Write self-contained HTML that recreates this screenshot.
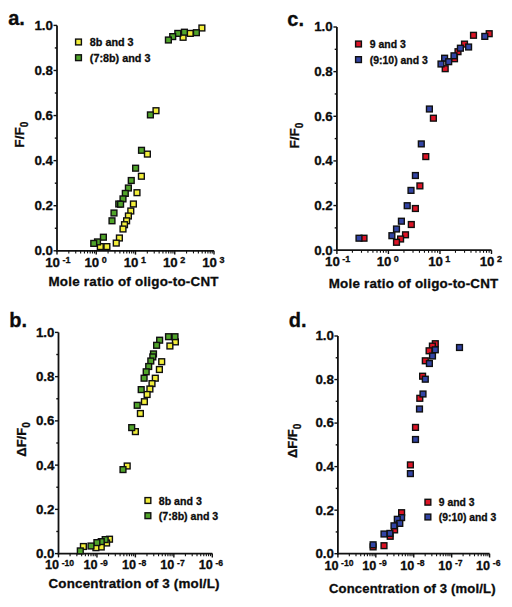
<!DOCTYPE html>
<html><head><meta charset="utf-8"><style>
html,body{margin:0;padding:0;background:#fff;}
svg{display:block;}
text{font-family:"Liberation Sans", sans-serif;font-weight:bold;fill:#0c0c0c;stroke:#0c0c0c;stroke-width:0.3px;}
</style></head><body>
<svg width="512" height="607" viewBox="0 0 512 607">
<rect width="512" height="607" fill="#fff"/>
<line x1="57.00" y1="25.40" x2="57.00" y2="251.60" stroke="#111" stroke-width="1.8"/>
<line x1="56.20" y1="250.80" x2="214.00" y2="250.80" stroke="#111" stroke-width="1.8"/>
<line x1="53.50" y1="250.80" x2="57.00" y2="250.80" stroke="#111" stroke-width="1.4"/>
<line x1="54.80" y1="228.26" x2="57.00" y2="228.26" stroke="#111" stroke-width="1.4"/>
<line x1="53.50" y1="205.72" x2="57.00" y2="205.72" stroke="#111" stroke-width="1.4"/>
<line x1="54.80" y1="183.18" x2="57.00" y2="183.18" stroke="#111" stroke-width="1.4"/>
<line x1="53.50" y1="160.64" x2="57.00" y2="160.64" stroke="#111" stroke-width="1.4"/>
<line x1="54.80" y1="138.10" x2="57.00" y2="138.10" stroke="#111" stroke-width="1.4"/>
<line x1="53.50" y1="115.56" x2="57.00" y2="115.56" stroke="#111" stroke-width="1.4"/>
<line x1="54.80" y1="93.02" x2="57.00" y2="93.02" stroke="#111" stroke-width="1.4"/>
<line x1="53.50" y1="70.48" x2="57.00" y2="70.48" stroke="#111" stroke-width="1.4"/>
<line x1="54.80" y1="47.94" x2="57.00" y2="47.94" stroke="#111" stroke-width="1.4"/>
<line x1="53.50" y1="25.40" x2="57.00" y2="25.40" stroke="#111" stroke-width="1.4"/>
<text x="53.00" y="255.20" font-size="13.4" text-anchor="end" >0.0</text>
<text x="53.00" y="210.12" font-size="13.4" text-anchor="end" >0.2</text>
<text x="53.00" y="165.04" font-size="13.4" text-anchor="end" >0.4</text>
<text x="53.00" y="119.96" font-size="13.4" text-anchor="end" >0.6</text>
<text x="53.00" y="74.88" font-size="13.4" text-anchor="end" >0.8</text>
<text x="53.00" y="29.80" font-size="13.4" text-anchor="end" >1.0</text>
<line x1="57.00" y1="250.80" x2="57.00" y2="254.60" stroke="#111" stroke-width="1.4"/>
<line x1="68.82" y1="250.80" x2="68.82" y2="253.40" stroke="#111" stroke-width="1.1"/>
<line x1="75.73" y1="250.80" x2="75.73" y2="253.40" stroke="#111" stroke-width="1.1"/>
<line x1="80.63" y1="250.80" x2="80.63" y2="253.40" stroke="#111" stroke-width="1.1"/>
<line x1="84.43" y1="250.80" x2="84.43" y2="253.40" stroke="#111" stroke-width="1.1"/>
<line x1="87.54" y1="250.80" x2="87.54" y2="253.40" stroke="#111" stroke-width="1.1"/>
<line x1="90.17" y1="250.80" x2="90.17" y2="253.40" stroke="#111" stroke-width="1.1"/>
<line x1="92.45" y1="250.80" x2="92.45" y2="253.40" stroke="#111" stroke-width="1.1"/>
<line x1="94.45" y1="250.80" x2="94.45" y2="253.40" stroke="#111" stroke-width="1.1"/>
<line x1="96.25" y1="250.80" x2="96.25" y2="254.60" stroke="#111" stroke-width="1.4"/>
<line x1="108.07" y1="250.80" x2="108.07" y2="253.40" stroke="#111" stroke-width="1.1"/>
<line x1="114.98" y1="250.80" x2="114.98" y2="253.40" stroke="#111" stroke-width="1.1"/>
<line x1="119.88" y1="250.80" x2="119.88" y2="253.40" stroke="#111" stroke-width="1.1"/>
<line x1="123.68" y1="250.80" x2="123.68" y2="253.40" stroke="#111" stroke-width="1.1"/>
<line x1="126.79" y1="250.80" x2="126.79" y2="253.40" stroke="#111" stroke-width="1.1"/>
<line x1="129.42" y1="250.80" x2="129.42" y2="253.40" stroke="#111" stroke-width="1.1"/>
<line x1="131.70" y1="250.80" x2="131.70" y2="253.40" stroke="#111" stroke-width="1.1"/>
<line x1="133.70" y1="250.80" x2="133.70" y2="253.40" stroke="#111" stroke-width="1.1"/>
<line x1="135.50" y1="250.80" x2="135.50" y2="254.60" stroke="#111" stroke-width="1.4"/>
<line x1="147.32" y1="250.80" x2="147.32" y2="253.40" stroke="#111" stroke-width="1.1"/>
<line x1="154.23" y1="250.80" x2="154.23" y2="253.40" stroke="#111" stroke-width="1.1"/>
<line x1="159.13" y1="250.80" x2="159.13" y2="253.40" stroke="#111" stroke-width="1.1"/>
<line x1="162.93" y1="250.80" x2="162.93" y2="253.40" stroke="#111" stroke-width="1.1"/>
<line x1="166.04" y1="250.80" x2="166.04" y2="253.40" stroke="#111" stroke-width="1.1"/>
<line x1="168.67" y1="250.80" x2="168.67" y2="253.40" stroke="#111" stroke-width="1.1"/>
<line x1="170.95" y1="250.80" x2="170.95" y2="253.40" stroke="#111" stroke-width="1.1"/>
<line x1="172.95" y1="250.80" x2="172.95" y2="253.40" stroke="#111" stroke-width="1.1"/>
<line x1="174.75" y1="250.80" x2="174.75" y2="254.60" stroke="#111" stroke-width="1.4"/>
<line x1="186.57" y1="250.80" x2="186.57" y2="253.40" stroke="#111" stroke-width="1.1"/>
<line x1="193.48" y1="250.80" x2="193.48" y2="253.40" stroke="#111" stroke-width="1.1"/>
<line x1="198.38" y1="250.80" x2="198.38" y2="253.40" stroke="#111" stroke-width="1.1"/>
<line x1="202.18" y1="250.80" x2="202.18" y2="253.40" stroke="#111" stroke-width="1.1"/>
<line x1="205.29" y1="250.80" x2="205.29" y2="253.40" stroke="#111" stroke-width="1.1"/>
<line x1="207.92" y1="250.80" x2="207.92" y2="253.40" stroke="#111" stroke-width="1.1"/>
<line x1="210.20" y1="250.80" x2="210.20" y2="253.40" stroke="#111" stroke-width="1.1"/>
<line x1="212.20" y1="250.80" x2="212.20" y2="253.40" stroke="#111" stroke-width="1.1"/>
<line x1="214.00" y1="250.80" x2="214.00" y2="254.60" stroke="#111" stroke-width="1.4"/>
<text x="60.00" y="267.00" font-size="13.3" text-anchor="end" >10</text>
<text x="62.40" y="262.50" font-size="9" text-anchor="start" >-1</text>
<text x="99.25" y="267.00" font-size="13.3" text-anchor="end" >10</text>
<text x="101.65" y="262.50" font-size="9" text-anchor="start" >0</text>
<text x="138.50" y="267.00" font-size="13.3" text-anchor="end" >10</text>
<text x="140.90" y="262.50" font-size="9" text-anchor="start" >1</text>
<text x="177.75" y="267.00" font-size="13.3" text-anchor="end" >10</text>
<text x="180.15" y="262.50" font-size="9" text-anchor="start" >2</text>
<text x="217.00" y="267.00" font-size="13.3" text-anchor="end" >10</text>
<text x="219.40" y="262.50" font-size="9" text-anchor="start" >3</text>
<text x="48.50" y="285.50" font-size="13.4" text-anchor="start" textLength="170" lengthAdjust="spacing">Mole ratio of oligo-to-CNT</text>
<text transform="translate(24.30,134.70) rotate(-90)" font-size="13.6" text-anchor="middle">F/F<tspan font-size="10" dy="3.8">0</tspan></text>
<text x="8.20" y="25.30" font-size="20" text-anchor="start" >a.</text>
<rect x="75.60" y="39.10" width="5.8" height="5.8" fill="#f2ee3a" stroke="#101010" stroke-width="1.4"/>
<text x="89.80" y="46.00" font-size="10.8" text-anchor="start" >8b and 3</text>
<rect x="75.60" y="54.80" width="5.8" height="5.8" fill="#50a42a" stroke="#101010" stroke-width="1.4"/>
<text x="89.80" y="61.70" font-size="10.8" text-anchor="start" >(7:8b) and 3</text>
<rect x="199.00" y="25.10" width="5.8" height="5.8" fill="#f2ee3a" stroke="#101010" stroke-width="1.4"/>
<rect x="187.40" y="30.50" width="5.8" height="5.8" fill="#f2ee3a" stroke="#101010" stroke-width="1.4"/>
<rect x="180.20" y="34.40" width="5.8" height="5.8" fill="#f2ee3a" stroke="#101010" stroke-width="1.4"/>
<rect x="153.10" y="107.80" width="5.8" height="5.8" fill="#f2ee3a" stroke="#101010" stroke-width="1.4"/>
<rect x="144.50" y="151.20" width="5.8" height="5.8" fill="#f2ee3a" stroke="#101010" stroke-width="1.4"/>
<rect x="138.50" y="173.35" width="5.8" height="5.8" fill="#f2ee3a" stroke="#101010" stroke-width="1.4"/>
<rect x="134.10" y="189.80" width="5.8" height="5.8" fill="#f2ee3a" stroke="#101010" stroke-width="1.4"/>
<rect x="130.50" y="201.10" width="5.8" height="5.8" fill="#f2ee3a" stroke="#101010" stroke-width="1.4"/>
<rect x="127.90" y="208.10" width="5.8" height="5.8" fill="#f2ee3a" stroke="#101010" stroke-width="1.4"/>
<rect x="125.50" y="213.10" width="5.8" height="5.8" fill="#f2ee3a" stroke="#101010" stroke-width="1.4"/>
<rect x="123.70" y="217.90" width="5.8" height="5.8" fill="#f2ee3a" stroke="#101010" stroke-width="1.4"/>
<rect x="121.60" y="221.80" width="5.8" height="5.8" fill="#f2ee3a" stroke="#101010" stroke-width="1.4"/>
<rect x="120.10" y="226.10" width="5.8" height="5.8" fill="#f2ee3a" stroke="#101010" stroke-width="1.4"/>
<rect x="116.50" y="235.10" width="5.8" height="5.8" fill="#f2ee3a" stroke="#101010" stroke-width="1.4"/>
<rect x="113.35" y="240.20" width="5.8" height="5.8" fill="#f2ee3a" stroke="#101010" stroke-width="1.4"/>
<rect x="97.40" y="243.70" width="5.8" height="5.8" fill="#f2ee3a" stroke="#101010" stroke-width="1.4"/>
<rect x="104.00" y="243.70" width="5.8" height="5.8" fill="#f2ee3a" stroke="#101010" stroke-width="1.4"/>
<rect x="181.50" y="29.30" width="5.8" height="5.8" fill="#50a42a" stroke="#101010" stroke-width="1.4"/>
<rect x="193.50" y="29.80" width="5.8" height="5.8" fill="#50a42a" stroke="#101010" stroke-width="1.4"/>
<rect x="174.90" y="30.50" width="5.8" height="5.8" fill="#50a42a" stroke="#101010" stroke-width="1.4"/>
<rect x="169.80" y="33.70" width="5.8" height="5.8" fill="#50a42a" stroke="#101010" stroke-width="1.4"/>
<rect x="165.50" y="37.10" width="5.8" height="5.8" fill="#50a42a" stroke="#101010" stroke-width="1.4"/>
<rect x="147.50" y="112.00" width="5.8" height="5.8" fill="#50a42a" stroke="#101010" stroke-width="1.4"/>
<rect x="138.60" y="147.40" width="5.8" height="5.8" fill="#50a42a" stroke="#101010" stroke-width="1.4"/>
<rect x="132.70" y="165.30" width="5.8" height="5.8" fill="#50a42a" stroke="#101010" stroke-width="1.4"/>
<rect x="128.35" y="177.60" width="5.8" height="5.8" fill="#50a42a" stroke="#101010" stroke-width="1.4"/>
<rect x="125.50" y="185.10" width="5.8" height="5.8" fill="#50a42a" stroke="#101010" stroke-width="1.4"/>
<rect x="122.40" y="190.50" width="5.8" height="5.8" fill="#50a42a" stroke="#101010" stroke-width="1.4"/>
<rect x="120.10" y="196.00" width="5.8" height="5.8" fill="#50a42a" stroke="#101010" stroke-width="1.4"/>
<rect x="115.85" y="201.10" width="5.8" height="5.8" fill="#50a42a" stroke="#101010" stroke-width="1.4"/>
<rect x="117.70" y="201.30" width="5.8" height="5.8" fill="#50a42a" stroke="#101010" stroke-width="1.4"/>
<rect x="111.10" y="210.10" width="5.8" height="5.8" fill="#50a42a" stroke="#101010" stroke-width="1.4"/>
<rect x="109.10" y="217.90" width="5.8" height="5.8" fill="#50a42a" stroke="#101010" stroke-width="1.4"/>
<rect x="100.50" y="234.30" width="5.8" height="5.8" fill="#50a42a" stroke="#101010" stroke-width="1.4"/>
<rect x="94.60" y="239.00" width="5.8" height="5.8" fill="#50a42a" stroke="#101010" stroke-width="1.4"/>
<rect x="90.85" y="240.50" width="5.8" height="5.8" fill="#50a42a" stroke="#101010" stroke-width="1.4"/>
<line x1="58.50" y1="332.40" x2="58.50" y2="554.40" stroke="#111" stroke-width="1.8"/>
<line x1="57.70" y1="553.60" x2="212.30" y2="553.60" stroke="#111" stroke-width="1.8"/>
<line x1="55.00" y1="553.60" x2="58.50" y2="553.60" stroke="#111" stroke-width="1.4"/>
<line x1="56.30" y1="531.48" x2="58.50" y2="531.48" stroke="#111" stroke-width="1.4"/>
<line x1="55.00" y1="509.36" x2="58.50" y2="509.36" stroke="#111" stroke-width="1.4"/>
<line x1="56.30" y1="487.24" x2="58.50" y2="487.24" stroke="#111" stroke-width="1.4"/>
<line x1="55.00" y1="465.12" x2="58.50" y2="465.12" stroke="#111" stroke-width="1.4"/>
<line x1="56.30" y1="443.00" x2="58.50" y2="443.00" stroke="#111" stroke-width="1.4"/>
<line x1="55.00" y1="420.88" x2="58.50" y2="420.88" stroke="#111" stroke-width="1.4"/>
<line x1="56.30" y1="398.76" x2="58.50" y2="398.76" stroke="#111" stroke-width="1.4"/>
<line x1="55.00" y1="376.64" x2="58.50" y2="376.64" stroke="#111" stroke-width="1.4"/>
<line x1="56.30" y1="354.52" x2="58.50" y2="354.52" stroke="#111" stroke-width="1.4"/>
<line x1="55.00" y1="332.40" x2="58.50" y2="332.40" stroke="#111" stroke-width="1.4"/>
<text x="54.50" y="558.00" font-size="13.4" text-anchor="end" >0.0</text>
<text x="54.50" y="513.76" font-size="13.4" text-anchor="end" >0.2</text>
<text x="54.50" y="469.52" font-size="13.4" text-anchor="end" >0.4</text>
<text x="54.50" y="425.28" font-size="13.4" text-anchor="end" >0.6</text>
<text x="54.50" y="381.04" font-size="13.4" text-anchor="end" >0.8</text>
<text x="54.50" y="336.80" font-size="13.4" text-anchor="end" >1.0</text>
<line x1="58.50" y1="553.60" x2="58.50" y2="557.40" stroke="#111" stroke-width="1.4"/>
<line x1="70.07" y1="553.60" x2="70.07" y2="556.20" stroke="#111" stroke-width="1.1"/>
<line x1="76.85" y1="553.60" x2="76.85" y2="556.20" stroke="#111" stroke-width="1.1"/>
<line x1="81.65" y1="553.60" x2="81.65" y2="556.20" stroke="#111" stroke-width="1.1"/>
<line x1="85.38" y1="553.60" x2="85.38" y2="556.20" stroke="#111" stroke-width="1.1"/>
<line x1="88.42" y1="553.60" x2="88.42" y2="556.20" stroke="#111" stroke-width="1.1"/>
<line x1="90.99" y1="553.60" x2="90.99" y2="556.20" stroke="#111" stroke-width="1.1"/>
<line x1="93.22" y1="553.60" x2="93.22" y2="556.20" stroke="#111" stroke-width="1.1"/>
<line x1="95.19" y1="553.60" x2="95.19" y2="556.20" stroke="#111" stroke-width="1.1"/>
<line x1="96.95" y1="553.60" x2="96.95" y2="557.40" stroke="#111" stroke-width="1.4"/>
<line x1="108.52" y1="553.60" x2="108.52" y2="556.20" stroke="#111" stroke-width="1.1"/>
<line x1="115.30" y1="553.60" x2="115.30" y2="556.20" stroke="#111" stroke-width="1.1"/>
<line x1="120.10" y1="553.60" x2="120.10" y2="556.20" stroke="#111" stroke-width="1.1"/>
<line x1="123.83" y1="553.60" x2="123.83" y2="556.20" stroke="#111" stroke-width="1.1"/>
<line x1="126.87" y1="553.60" x2="126.87" y2="556.20" stroke="#111" stroke-width="1.1"/>
<line x1="129.44" y1="553.60" x2="129.44" y2="556.20" stroke="#111" stroke-width="1.1"/>
<line x1="131.67" y1="553.60" x2="131.67" y2="556.20" stroke="#111" stroke-width="1.1"/>
<line x1="133.64" y1="553.60" x2="133.64" y2="556.20" stroke="#111" stroke-width="1.1"/>
<line x1="135.40" y1="553.60" x2="135.40" y2="557.40" stroke="#111" stroke-width="1.4"/>
<line x1="146.97" y1="553.60" x2="146.97" y2="556.20" stroke="#111" stroke-width="1.1"/>
<line x1="153.75" y1="553.60" x2="153.75" y2="556.20" stroke="#111" stroke-width="1.1"/>
<line x1="158.55" y1="553.60" x2="158.55" y2="556.20" stroke="#111" stroke-width="1.1"/>
<line x1="162.28" y1="553.60" x2="162.28" y2="556.20" stroke="#111" stroke-width="1.1"/>
<line x1="165.32" y1="553.60" x2="165.32" y2="556.20" stroke="#111" stroke-width="1.1"/>
<line x1="167.89" y1="553.60" x2="167.89" y2="556.20" stroke="#111" stroke-width="1.1"/>
<line x1="170.12" y1="553.60" x2="170.12" y2="556.20" stroke="#111" stroke-width="1.1"/>
<line x1="172.09" y1="553.60" x2="172.09" y2="556.20" stroke="#111" stroke-width="1.1"/>
<line x1="173.85" y1="553.60" x2="173.85" y2="557.40" stroke="#111" stroke-width="1.4"/>
<line x1="185.42" y1="553.60" x2="185.42" y2="556.20" stroke="#111" stroke-width="1.1"/>
<line x1="192.20" y1="553.60" x2="192.20" y2="556.20" stroke="#111" stroke-width="1.1"/>
<line x1="197.00" y1="553.60" x2="197.00" y2="556.20" stroke="#111" stroke-width="1.1"/>
<line x1="200.73" y1="553.60" x2="200.73" y2="556.20" stroke="#111" stroke-width="1.1"/>
<line x1="203.77" y1="553.60" x2="203.77" y2="556.20" stroke="#111" stroke-width="1.1"/>
<line x1="206.34" y1="553.60" x2="206.34" y2="556.20" stroke="#111" stroke-width="1.1"/>
<line x1="208.57" y1="553.60" x2="208.57" y2="556.20" stroke="#111" stroke-width="1.1"/>
<line x1="210.54" y1="553.60" x2="210.54" y2="556.20" stroke="#111" stroke-width="1.1"/>
<line x1="212.30" y1="553.60" x2="212.30" y2="557.40" stroke="#111" stroke-width="1.4"/>
<text x="59.10" y="569.40" font-size="12.7" text-anchor="end" >10</text>
<text x="61.70" y="565.50" font-size="8.6" text-anchor="start" >-10</text>
<text x="97.55" y="569.40" font-size="12.7" text-anchor="end" >10</text>
<text x="100.15" y="565.50" font-size="8.6" text-anchor="start" >-9</text>
<text x="136.00" y="569.40" font-size="12.7" text-anchor="end" >10</text>
<text x="138.60" y="565.50" font-size="8.6" text-anchor="start" >-8</text>
<text x="174.45" y="569.40" font-size="12.7" text-anchor="end" >10</text>
<text x="177.05" y="565.50" font-size="8.6" text-anchor="start" >-7</text>
<text x="212.90" y="569.40" font-size="12.7" text-anchor="end" >10</text>
<text x="215.50" y="565.50" font-size="8.6" text-anchor="start" >-6</text>
<text x="48.50" y="587.50" font-size="13.4" text-anchor="start" textLength="171" lengthAdjust="spacing">Concentration of 3 (mol/L)</text>
<text transform="translate(26.00,439.50) rotate(-90)" font-size="13.0" text-anchor="middle">&#916;F/F<tspan font-size="10" dy="3.8">0</tspan></text>
<text x="9.20" y="326.60" font-size="20" text-anchor="start" >b.</text>
<rect x="145.00" y="497.60" width="5.8" height="5.8" fill="#f2ee3a" stroke="#101010" stroke-width="1.4"/>
<text x="158.80" y="504.50" font-size="10.6" text-anchor="start" >8b and 3</text>
<rect x="145.00" y="512.80" width="5.8" height="5.8" fill="#50a42a" stroke="#101010" stroke-width="1.4"/>
<text x="158.80" y="519.70" font-size="10.6" text-anchor="start" >(7:8b) and 3</text>
<rect x="172.50" y="339.00" width="5.8" height="5.8" fill="#f2ee3a" stroke="#101010" stroke-width="1.4"/>
<rect x="167.00" y="343.10" width="5.8" height="5.8" fill="#f2ee3a" stroke="#101010" stroke-width="1.4"/>
<rect x="158.80" y="358.80" width="5.8" height="5.8" fill="#f2ee3a" stroke="#101010" stroke-width="1.4"/>
<rect x="156.50" y="366.60" width="5.8" height="5.8" fill="#f2ee3a" stroke="#101010" stroke-width="1.4"/>
<rect x="152.40" y="375.30" width="5.8" height="5.8" fill="#f2ee3a" stroke="#101010" stroke-width="1.4"/>
<rect x="149.10" y="380.70" width="5.8" height="5.8" fill="#f2ee3a" stroke="#101010" stroke-width="1.4"/>
<rect x="147.00" y="386.10" width="5.8" height="5.8" fill="#f2ee3a" stroke="#101010" stroke-width="1.4"/>
<rect x="144.20" y="391.60" width="5.8" height="5.8" fill="#f2ee3a" stroke="#101010" stroke-width="1.4"/>
<rect x="141.50" y="398.80" width="5.8" height="5.8" fill="#f2ee3a" stroke="#101010" stroke-width="1.4"/>
<rect x="137.50" y="410.60" width="5.8" height="5.8" fill="#f2ee3a" stroke="#101010" stroke-width="1.4"/>
<rect x="132.50" y="428.70" width="5.8" height="5.8" fill="#f2ee3a" stroke="#101010" stroke-width="1.4"/>
<rect x="124.30" y="463.10" width="5.8" height="5.8" fill="#f2ee3a" stroke="#101010" stroke-width="1.4"/>
<rect x="106.60" y="536.30" width="5.8" height="5.8" fill="#f2ee3a" stroke="#101010" stroke-width="1.4"/>
<rect x="103.70" y="540.10" width="5.8" height="5.8" fill="#f2ee3a" stroke="#101010" stroke-width="1.4"/>
<rect x="80.50" y="543.60" width="5.8" height="5.8" fill="#f2ee3a" stroke="#101010" stroke-width="1.4"/>
<rect x="98.35" y="544.10" width="5.8" height="5.8" fill="#f2ee3a" stroke="#101010" stroke-width="1.4"/>
<rect x="93.00" y="544.80" width="5.8" height="5.8" fill="#f2ee3a" stroke="#101010" stroke-width="1.4"/>
<rect x="165.60" y="333.80" width="5.8" height="5.8" fill="#50a42a" stroke="#101010" stroke-width="1.4"/>
<rect x="172.10" y="333.80" width="5.8" height="5.8" fill="#50a42a" stroke="#101010" stroke-width="1.4"/>
<rect x="156.75" y="337.30" width="5.8" height="5.8" fill="#50a42a" stroke="#101010" stroke-width="1.4"/>
<rect x="153.70" y="342.40" width="5.8" height="5.8" fill="#50a42a" stroke="#101010" stroke-width="1.4"/>
<rect x="150.60" y="351.00" width="5.8" height="5.8" fill="#50a42a" stroke="#101010" stroke-width="1.4"/>
<rect x="149.90" y="354.00" width="5.8" height="5.8" fill="#50a42a" stroke="#101010" stroke-width="1.4"/>
<rect x="147.90" y="358.10" width="5.8" height="5.8" fill="#50a42a" stroke="#101010" stroke-width="1.4"/>
<rect x="145.80" y="363.60" width="5.8" height="5.8" fill="#50a42a" stroke="#101010" stroke-width="1.4"/>
<rect x="143.30" y="368.90" width="5.8" height="5.8" fill="#50a42a" stroke="#101010" stroke-width="1.4"/>
<rect x="141.20" y="375.30" width="5.8" height="5.8" fill="#50a42a" stroke="#101010" stroke-width="1.4"/>
<rect x="138.30" y="386.70" width="5.8" height="5.8" fill="#50a42a" stroke="#101010" stroke-width="1.4"/>
<rect x="134.30" y="402.40" width="5.8" height="5.8" fill="#50a42a" stroke="#101010" stroke-width="1.4"/>
<rect x="128.80" y="424.70" width="5.8" height="5.8" fill="#50a42a" stroke="#101010" stroke-width="1.4"/>
<rect x="120.10" y="466.70" width="5.8" height="5.8" fill="#50a42a" stroke="#101010" stroke-width="1.4"/>
<rect x="102.30" y="536.70" width="5.8" height="5.8" fill="#50a42a" stroke="#101010" stroke-width="1.4"/>
<rect x="98.35" y="538.70" width="5.8" height="5.8" fill="#50a42a" stroke="#101010" stroke-width="1.4"/>
<rect x="94.00" y="539.70" width="5.8" height="5.8" fill="#50a42a" stroke="#101010" stroke-width="1.4"/>
<rect x="88.10" y="543.10" width="5.8" height="5.8" fill="#50a42a" stroke="#101010" stroke-width="1.4"/>
<rect x="77.40" y="548.00" width="5.8" height="5.8" fill="#50a42a" stroke="#101010" stroke-width="1.4"/>
<line x1="336.90" y1="27.00" x2="336.90" y2="251.00" stroke="#111" stroke-width="1.8"/>
<line x1="336.10" y1="250.20" x2="491.50" y2="250.20" stroke="#111" stroke-width="1.8"/>
<line x1="333.40" y1="250.20" x2="336.90" y2="250.20" stroke="#111" stroke-width="1.4"/>
<line x1="334.70" y1="227.88" x2="336.90" y2="227.88" stroke="#111" stroke-width="1.4"/>
<line x1="333.40" y1="205.56" x2="336.90" y2="205.56" stroke="#111" stroke-width="1.4"/>
<line x1="334.70" y1="183.24" x2="336.90" y2="183.24" stroke="#111" stroke-width="1.4"/>
<line x1="333.40" y1="160.92" x2="336.90" y2="160.92" stroke="#111" stroke-width="1.4"/>
<line x1="334.70" y1="138.60" x2="336.90" y2="138.60" stroke="#111" stroke-width="1.4"/>
<line x1="333.40" y1="116.28" x2="336.90" y2="116.28" stroke="#111" stroke-width="1.4"/>
<line x1="334.70" y1="93.96" x2="336.90" y2="93.96" stroke="#111" stroke-width="1.4"/>
<line x1="333.40" y1="71.64" x2="336.90" y2="71.64" stroke="#111" stroke-width="1.4"/>
<line x1="334.70" y1="49.32" x2="336.90" y2="49.32" stroke="#111" stroke-width="1.4"/>
<line x1="333.40" y1="27.00" x2="336.90" y2="27.00" stroke="#111" stroke-width="1.4"/>
<text x="332.80" y="254.60" font-size="13.4" text-anchor="end" >0.0</text>
<text x="332.80" y="209.96" font-size="13.4" text-anchor="end" >0.2</text>
<text x="332.80" y="165.32" font-size="13.4" text-anchor="end" >0.4</text>
<text x="332.80" y="120.68" font-size="13.4" text-anchor="end" >0.6</text>
<text x="332.80" y="76.04" font-size="13.4" text-anchor="end" >0.8</text>
<text x="332.80" y="31.40" font-size="13.4" text-anchor="end" >1.0</text>
<line x1="336.90" y1="250.20" x2="336.90" y2="254.00" stroke="#111" stroke-width="1.4"/>
<line x1="352.41" y1="250.20" x2="352.41" y2="252.80" stroke="#111" stroke-width="1.1"/>
<line x1="361.49" y1="250.20" x2="361.49" y2="252.80" stroke="#111" stroke-width="1.1"/>
<line x1="367.93" y1="250.20" x2="367.93" y2="252.80" stroke="#111" stroke-width="1.1"/>
<line x1="372.92" y1="250.20" x2="372.92" y2="252.80" stroke="#111" stroke-width="1.1"/>
<line x1="377.00" y1="250.20" x2="377.00" y2="252.80" stroke="#111" stroke-width="1.1"/>
<line x1="380.45" y1="250.20" x2="380.45" y2="252.80" stroke="#111" stroke-width="1.1"/>
<line x1="383.44" y1="250.20" x2="383.44" y2="252.80" stroke="#111" stroke-width="1.1"/>
<line x1="386.08" y1="250.20" x2="386.08" y2="252.80" stroke="#111" stroke-width="1.1"/>
<line x1="388.43" y1="250.20" x2="388.43" y2="254.00" stroke="#111" stroke-width="1.4"/>
<line x1="403.95" y1="250.20" x2="403.95" y2="252.80" stroke="#111" stroke-width="1.1"/>
<line x1="413.02" y1="250.20" x2="413.02" y2="252.80" stroke="#111" stroke-width="1.1"/>
<line x1="419.46" y1="250.20" x2="419.46" y2="252.80" stroke="#111" stroke-width="1.1"/>
<line x1="424.45" y1="250.20" x2="424.45" y2="252.80" stroke="#111" stroke-width="1.1"/>
<line x1="428.53" y1="250.20" x2="428.53" y2="252.80" stroke="#111" stroke-width="1.1"/>
<line x1="431.98" y1="250.20" x2="431.98" y2="252.80" stroke="#111" stroke-width="1.1"/>
<line x1="434.97" y1="250.20" x2="434.97" y2="252.80" stroke="#111" stroke-width="1.1"/>
<line x1="437.61" y1="250.20" x2="437.61" y2="252.80" stroke="#111" stroke-width="1.1"/>
<line x1="439.97" y1="250.20" x2="439.97" y2="254.00" stroke="#111" stroke-width="1.4"/>
<line x1="455.48" y1="250.20" x2="455.48" y2="252.80" stroke="#111" stroke-width="1.1"/>
<line x1="464.55" y1="250.20" x2="464.55" y2="252.80" stroke="#111" stroke-width="1.1"/>
<line x1="470.99" y1="250.20" x2="470.99" y2="252.80" stroke="#111" stroke-width="1.1"/>
<line x1="475.99" y1="250.20" x2="475.99" y2="252.80" stroke="#111" stroke-width="1.1"/>
<line x1="480.07" y1="250.20" x2="480.07" y2="252.80" stroke="#111" stroke-width="1.1"/>
<line x1="483.52" y1="250.20" x2="483.52" y2="252.80" stroke="#111" stroke-width="1.1"/>
<line x1="486.51" y1="250.20" x2="486.51" y2="252.80" stroke="#111" stroke-width="1.1"/>
<line x1="489.14" y1="250.20" x2="489.14" y2="252.80" stroke="#111" stroke-width="1.1"/>
<line x1="491.50" y1="250.20" x2="491.50" y2="254.00" stroke="#111" stroke-width="1.4"/>
<text x="339.90" y="266.00" font-size="13.3" text-anchor="end" >10</text>
<text x="342.30" y="261.50" font-size="9" text-anchor="start" >-1</text>
<text x="391.43" y="266.00" font-size="13.3" text-anchor="end" >10</text>
<text x="393.83" y="261.50" font-size="9" text-anchor="start" >0</text>
<text x="442.97" y="266.00" font-size="13.3" text-anchor="end" >10</text>
<text x="445.37" y="261.50" font-size="9" text-anchor="start" >1</text>
<text x="494.50" y="266.00" font-size="13.3" text-anchor="end" >10</text>
<text x="496.90" y="261.50" font-size="9" text-anchor="start" >2</text>
<text x="328.70" y="287.60" font-size="13.4" text-anchor="start" textLength="169.6" lengthAdjust="spacing">Mole ratio of oligo-to-CNT</text>
<text transform="translate(299.30,135.60) rotate(-90)" font-size="13.6" text-anchor="middle">F/F<tspan font-size="10" dy="3.8">0</tspan></text>
<text x="287.30" y="25.60" font-size="20" text-anchor="start" >c.</text>
<rect x="355.60" y="41.10" width="5.8" height="5.8" fill="#dc1426" stroke="#101010" stroke-width="1.4"/>
<text x="369.80" y="48.00" font-size="10.45" text-anchor="start" >9 and 3</text>
<rect x="355.60" y="56.70" width="5.8" height="5.8" fill="#3244a4" stroke="#101010" stroke-width="1.4"/>
<text x="369.80" y="63.60" font-size="10.45" text-anchor="start" >(9:10) and 3</text>
<rect x="486.30" y="30.80" width="5.8" height="5.8" fill="#dc1426" stroke="#101010" stroke-width="1.4"/>
<rect x="470.60" y="32.40" width="5.8" height="5.8" fill="#dc1426" stroke="#101010" stroke-width="1.4"/>
<rect x="461.60" y="41.20" width="5.8" height="5.8" fill="#dc1426" stroke="#101010" stroke-width="1.4"/>
<rect x="455.10" y="48.80" width="5.8" height="5.8" fill="#dc1426" stroke="#101010" stroke-width="1.4"/>
<rect x="451.60" y="55.85" width="5.8" height="5.8" fill="#dc1426" stroke="#101010" stroke-width="1.4"/>
<rect x="442.30" y="65.80" width="5.8" height="5.8" fill="#dc1426" stroke="#101010" stroke-width="1.4"/>
<rect x="430.50" y="115.30" width="5.8" height="5.8" fill="#dc1426" stroke="#101010" stroke-width="1.4"/>
<rect x="422.90" y="153.70" width="5.8" height="5.8" fill="#dc1426" stroke="#101010" stroke-width="1.4"/>
<rect x="417.00" y="183.00" width="5.8" height="5.8" fill="#dc1426" stroke="#101010" stroke-width="1.4"/>
<rect x="412.50" y="205.60" width="5.8" height="5.8" fill="#dc1426" stroke="#101010" stroke-width="1.4"/>
<rect x="408.40" y="221.60" width="5.8" height="5.8" fill="#dc1426" stroke="#101010" stroke-width="1.4"/>
<rect x="402.60" y="231.90" width="5.8" height="5.8" fill="#dc1426" stroke="#101010" stroke-width="1.4"/>
<rect x="361.10" y="235.30" width="5.8" height="5.8" fill="#dc1426" stroke="#101010" stroke-width="1.4"/>
<rect x="397.70" y="236.10" width="5.8" height="5.8" fill="#dc1426" stroke="#101010" stroke-width="1.4"/>
<rect x="393.60" y="239.40" width="5.8" height="5.8" fill="#dc1426" stroke="#101010" stroke-width="1.4"/>
<rect x="481.90" y="33.50" width="5.8" height="5.8" fill="#3244a4" stroke="#101010" stroke-width="1.4"/>
<rect x="465.70" y="44.10" width="5.8" height="5.8" fill="#3244a4" stroke="#101010" stroke-width="1.4"/>
<rect x="457.50" y="45.30" width="5.8" height="5.8" fill="#3244a4" stroke="#101010" stroke-width="1.4"/>
<rect x="451.10" y="52.90" width="5.8" height="5.8" fill="#3244a4" stroke="#101010" stroke-width="1.4"/>
<rect x="441.70" y="55.30" width="5.8" height="5.8" fill="#3244a4" stroke="#101010" stroke-width="1.4"/>
<rect x="445.80" y="58.80" width="5.8" height="5.8" fill="#3244a4" stroke="#101010" stroke-width="1.4"/>
<rect x="438.10" y="61.10" width="5.8" height="5.8" fill="#3244a4" stroke="#101010" stroke-width="1.4"/>
<rect x="426.50" y="106.10" width="5.8" height="5.8" fill="#3244a4" stroke="#101010" stroke-width="1.4"/>
<rect x="418.40" y="141.00" width="5.8" height="5.8" fill="#3244a4" stroke="#101010" stroke-width="1.4"/>
<rect x="412.50" y="172.60" width="5.8" height="5.8" fill="#3244a4" stroke="#101010" stroke-width="1.4"/>
<rect x="408.10" y="187.50" width="5.8" height="5.8" fill="#3244a4" stroke="#101010" stroke-width="1.4"/>
<rect x="404.30" y="202.80" width="5.8" height="5.8" fill="#3244a4" stroke="#101010" stroke-width="1.4"/>
<rect x="398.50" y="218.30" width="5.8" height="5.8" fill="#3244a4" stroke="#101010" stroke-width="1.4"/>
<rect x="393.60" y="226.10" width="5.8" height="5.8" fill="#3244a4" stroke="#101010" stroke-width="1.4"/>
<rect x="389.00" y="232.80" width="5.8" height="5.8" fill="#3244a4" stroke="#101010" stroke-width="1.4"/>
<rect x="356.10" y="235.30" width="5.8" height="5.8" fill="#3244a4" stroke="#101010" stroke-width="1.4"/>
<line x1="337.90" y1="336.00" x2="337.90" y2="554.50" stroke="#111" stroke-width="1.8"/>
<line x1="337.10" y1="553.70" x2="489.60" y2="553.70" stroke="#111" stroke-width="1.8"/>
<line x1="334.40" y1="553.70" x2="337.90" y2="553.70" stroke="#111" stroke-width="1.4"/>
<line x1="335.70" y1="531.93" x2="337.90" y2="531.93" stroke="#111" stroke-width="1.4"/>
<line x1="334.40" y1="510.16" x2="337.90" y2="510.16" stroke="#111" stroke-width="1.4"/>
<line x1="335.70" y1="488.39" x2="337.90" y2="488.39" stroke="#111" stroke-width="1.4"/>
<line x1="334.40" y1="466.62" x2="337.90" y2="466.62" stroke="#111" stroke-width="1.4"/>
<line x1="335.70" y1="444.85" x2="337.90" y2="444.85" stroke="#111" stroke-width="1.4"/>
<line x1="334.40" y1="423.08" x2="337.90" y2="423.08" stroke="#111" stroke-width="1.4"/>
<line x1="335.70" y1="401.31" x2="337.90" y2="401.31" stroke="#111" stroke-width="1.4"/>
<line x1="334.40" y1="379.54" x2="337.90" y2="379.54" stroke="#111" stroke-width="1.4"/>
<line x1="335.70" y1="357.77" x2="337.90" y2="357.77" stroke="#111" stroke-width="1.4"/>
<line x1="334.40" y1="336.00" x2="337.90" y2="336.00" stroke="#111" stroke-width="1.4"/>
<text x="334.00" y="558.10" font-size="13.4" text-anchor="end" >0.0</text>
<text x="334.00" y="514.56" font-size="13.4" text-anchor="end" >0.2</text>
<text x="334.00" y="471.02" font-size="13.4" text-anchor="end" >0.4</text>
<text x="334.00" y="427.48" font-size="13.4" text-anchor="end" >0.6</text>
<text x="334.00" y="383.94" font-size="13.4" text-anchor="end" >0.8</text>
<text x="334.00" y="340.40" font-size="13.4" text-anchor="end" >1.0</text>
<line x1="337.90" y1="553.70" x2="337.90" y2="557.50" stroke="#111" stroke-width="1.4"/>
<line x1="349.32" y1="553.70" x2="349.32" y2="556.30" stroke="#111" stroke-width="1.1"/>
<line x1="355.99" y1="553.70" x2="355.99" y2="556.30" stroke="#111" stroke-width="1.1"/>
<line x1="360.73" y1="553.70" x2="360.73" y2="556.30" stroke="#111" stroke-width="1.1"/>
<line x1="364.41" y1="553.70" x2="364.41" y2="556.30" stroke="#111" stroke-width="1.1"/>
<line x1="367.41" y1="553.70" x2="367.41" y2="556.30" stroke="#111" stroke-width="1.1"/>
<line x1="369.95" y1="553.70" x2="369.95" y2="556.30" stroke="#111" stroke-width="1.1"/>
<line x1="372.15" y1="553.70" x2="372.15" y2="556.30" stroke="#111" stroke-width="1.1"/>
<line x1="374.09" y1="553.70" x2="374.09" y2="556.30" stroke="#111" stroke-width="1.1"/>
<line x1="375.82" y1="553.70" x2="375.82" y2="557.50" stroke="#111" stroke-width="1.4"/>
<line x1="387.24" y1="553.70" x2="387.24" y2="556.30" stroke="#111" stroke-width="1.1"/>
<line x1="393.92" y1="553.70" x2="393.92" y2="556.30" stroke="#111" stroke-width="1.1"/>
<line x1="398.66" y1="553.70" x2="398.66" y2="556.30" stroke="#111" stroke-width="1.1"/>
<line x1="402.33" y1="553.70" x2="402.33" y2="556.30" stroke="#111" stroke-width="1.1"/>
<line x1="405.34" y1="553.70" x2="405.34" y2="556.30" stroke="#111" stroke-width="1.1"/>
<line x1="407.88" y1="553.70" x2="407.88" y2="556.30" stroke="#111" stroke-width="1.1"/>
<line x1="410.07" y1="553.70" x2="410.07" y2="556.30" stroke="#111" stroke-width="1.1"/>
<line x1="412.01" y1="553.70" x2="412.01" y2="556.30" stroke="#111" stroke-width="1.1"/>
<line x1="413.75" y1="553.70" x2="413.75" y2="557.50" stroke="#111" stroke-width="1.4"/>
<line x1="425.17" y1="553.70" x2="425.17" y2="556.30" stroke="#111" stroke-width="1.1"/>
<line x1="431.84" y1="553.70" x2="431.84" y2="556.30" stroke="#111" stroke-width="1.1"/>
<line x1="436.58" y1="553.70" x2="436.58" y2="556.30" stroke="#111" stroke-width="1.1"/>
<line x1="440.26" y1="553.70" x2="440.26" y2="556.30" stroke="#111" stroke-width="1.1"/>
<line x1="443.26" y1="553.70" x2="443.26" y2="556.30" stroke="#111" stroke-width="1.1"/>
<line x1="445.80" y1="553.70" x2="445.80" y2="556.30" stroke="#111" stroke-width="1.1"/>
<line x1="448.00" y1="553.70" x2="448.00" y2="556.30" stroke="#111" stroke-width="1.1"/>
<line x1="449.94" y1="553.70" x2="449.94" y2="556.30" stroke="#111" stroke-width="1.1"/>
<line x1="451.68" y1="553.70" x2="451.68" y2="557.50" stroke="#111" stroke-width="1.4"/>
<line x1="463.09" y1="553.70" x2="463.09" y2="556.30" stroke="#111" stroke-width="1.1"/>
<line x1="469.77" y1="553.70" x2="469.77" y2="556.30" stroke="#111" stroke-width="1.1"/>
<line x1="474.51" y1="553.70" x2="474.51" y2="556.30" stroke="#111" stroke-width="1.1"/>
<line x1="478.18" y1="553.70" x2="478.18" y2="556.30" stroke="#111" stroke-width="1.1"/>
<line x1="481.19" y1="553.70" x2="481.19" y2="556.30" stroke="#111" stroke-width="1.1"/>
<line x1="483.73" y1="553.70" x2="483.73" y2="556.30" stroke="#111" stroke-width="1.1"/>
<line x1="485.92" y1="553.70" x2="485.92" y2="556.30" stroke="#111" stroke-width="1.1"/>
<line x1="487.86" y1="553.70" x2="487.86" y2="556.30" stroke="#111" stroke-width="1.1"/>
<line x1="489.60" y1="553.70" x2="489.60" y2="557.50" stroke="#111" stroke-width="1.4"/>
<text x="338.50" y="569.50" font-size="12.7" text-anchor="end" >10</text>
<text x="341.10" y="565.60" font-size="8.6" text-anchor="start" >-10</text>
<text x="376.43" y="569.50" font-size="12.7" text-anchor="end" >10</text>
<text x="379.03" y="565.60" font-size="8.6" text-anchor="start" >-9</text>
<text x="414.35" y="569.50" font-size="12.7" text-anchor="end" >10</text>
<text x="416.95" y="565.60" font-size="8.6" text-anchor="start" >-8</text>
<text x="452.28" y="569.50" font-size="12.7" text-anchor="end" >10</text>
<text x="454.88" y="565.60" font-size="8.6" text-anchor="start" >-7</text>
<text x="490.20" y="569.50" font-size="12.7" text-anchor="end" >10</text>
<text x="492.80" y="565.60" font-size="8.6" text-anchor="start" >-6</text>
<text x="329.00" y="592.60" font-size="13.1" text-anchor="start" textLength="166.5" lengthAdjust="spacing">Concentration of 3 (mol/L)</text>
<text transform="translate(297.00,440.90) rotate(-90)" font-size="13.0" text-anchor="middle">&#916;F/F<tspan font-size="10" dy="3.8">0</tspan></text>
<text x="288.70" y="326.60" font-size="20" text-anchor="start" >d.</text>
<rect x="425.00" y="499.30" width="5.8" height="5.8" fill="#dc1426" stroke="#101010" stroke-width="1.4"/>
<text x="438.80" y="506.20" font-size="10.35" text-anchor="start" >9 and 3</text>
<rect x="425.00" y="514.10" width="5.8" height="5.8" fill="#3244a4" stroke="#101010" stroke-width="1.4"/>
<text x="438.80" y="521.00" font-size="10.35" text-anchor="start" >(9:10) and 3</text>
<rect x="432.40" y="340.80" width="5.8" height="5.8" fill="#dc1426" stroke="#101010" stroke-width="1.4"/>
<rect x="429.50" y="343.20" width="5.8" height="5.8" fill="#dc1426" stroke="#101010" stroke-width="1.4"/>
<rect x="426.20" y="347.90" width="5.8" height="5.8" fill="#dc1426" stroke="#101010" stroke-width="1.4"/>
<rect x="422.40" y="357.90" width="5.8" height="5.8" fill="#dc1426" stroke="#101010" stroke-width="1.4"/>
<rect x="419.70" y="373.30" width="5.8" height="5.8" fill="#dc1426" stroke="#101010" stroke-width="1.4"/>
<rect x="416.90" y="395.40" width="5.8" height="5.8" fill="#dc1426" stroke="#101010" stroke-width="1.4"/>
<rect x="412.60" y="424.50" width="5.8" height="5.8" fill="#dc1426" stroke="#101010" stroke-width="1.4"/>
<rect x="407.50" y="462.00" width="5.8" height="5.8" fill="#dc1426" stroke="#101010" stroke-width="1.4"/>
<rect x="398.70" y="509.80" width="5.8" height="5.8" fill="#dc1426" stroke="#101010" stroke-width="1.4"/>
<rect x="391.70" y="527.00" width="5.8" height="5.8" fill="#dc1426" stroke="#101010" stroke-width="1.4"/>
<rect x="387.30" y="533.40" width="5.8" height="5.8" fill="#dc1426" stroke="#101010" stroke-width="1.4"/>
<rect x="381.10" y="542.80" width="5.8" height="5.8" fill="#dc1426" stroke="#101010" stroke-width="1.4"/>
<rect x="370.20" y="544.00" width="5.8" height="5.8" fill="#dc1426" stroke="#101010" stroke-width="1.4"/>
<rect x="456.60" y="344.60" width="5.8" height="5.8" fill="#3244a4" stroke="#101010" stroke-width="1.4"/>
<rect x="432.40" y="346.90" width="5.8" height="5.8" fill="#3244a4" stroke="#101010" stroke-width="1.4"/>
<rect x="429.60" y="353.10" width="5.8" height="5.8" fill="#3244a4" stroke="#101010" stroke-width="1.4"/>
<rect x="426.50" y="360.60" width="5.8" height="5.8" fill="#3244a4" stroke="#101010" stroke-width="1.4"/>
<rect x="422.40" y="376.30" width="5.8" height="5.8" fill="#3244a4" stroke="#101010" stroke-width="1.4"/>
<rect x="420.10" y="391.10" width="5.8" height="5.8" fill="#3244a4" stroke="#101010" stroke-width="1.4"/>
<rect x="416.60" y="406.10" width="5.8" height="5.8" fill="#3244a4" stroke="#101010" stroke-width="1.4"/>
<rect x="412.60" y="436.60" width="5.8" height="5.8" fill="#3244a4" stroke="#101010" stroke-width="1.4"/>
<rect x="407.50" y="470.70" width="5.8" height="5.8" fill="#3244a4" stroke="#101010" stroke-width="1.4"/>
<rect x="398.70" y="514.70" width="5.8" height="5.8" fill="#3244a4" stroke="#101010" stroke-width="1.4"/>
<rect x="394.40" y="516.40" width="5.8" height="5.8" fill="#3244a4" stroke="#101010" stroke-width="1.4"/>
<rect x="396.90" y="520.50" width="5.8" height="5.8" fill="#3244a4" stroke="#101010" stroke-width="1.4"/>
<rect x="391.10" y="522.90" width="5.8" height="5.8" fill="#3244a4" stroke="#101010" stroke-width="1.4"/>
<rect x="387.00" y="530.50" width="5.8" height="5.8" fill="#3244a4" stroke="#101010" stroke-width="1.4"/>
<rect x="381.10" y="531.10" width="5.8" height="5.8" fill="#3244a4" stroke="#101010" stroke-width="1.4"/>
<rect x="370.20" y="541.90" width="5.8" height="5.8" fill="#3244a4" stroke="#101010" stroke-width="1.4"/>
</svg></body></html>
